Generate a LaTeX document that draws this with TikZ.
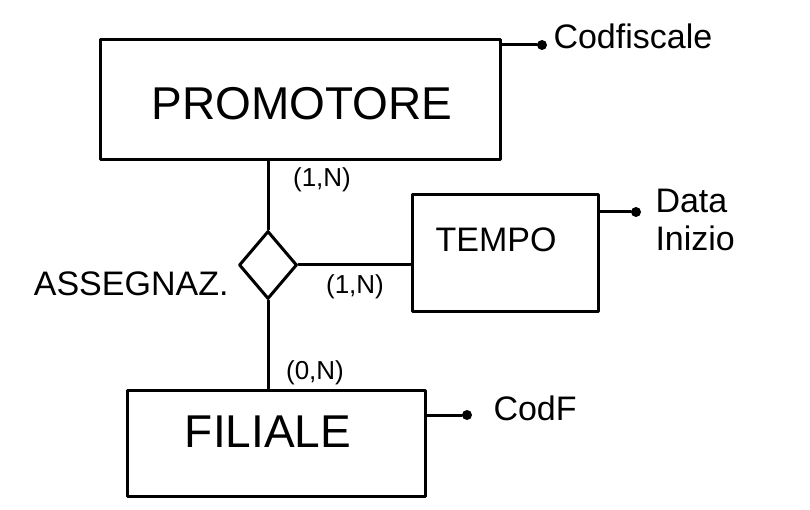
\documentclass[tikz,border=0pt]{standalone}
\usepackage{fontspec}
\setmainfont{Liberation Sans}
\usetikzlibrary{shapes.geometric}
\begin{document}
\begin{tikzpicture}[x=1pt,y=-1pt,
  ink/.style={line width=3pt,black,line cap=round,line join=round},
  entity/.style={ink,draw,rectangle,inner sep=0pt},
  relbox/.style={ink,draw,diamond,inner sep=0pt,minimum width=58pt,minimum height=68pt},
  attrdot/.style={circle,fill=black,inner sep=0pt,minimum size=10pt},
  big/.style={font=\fontsize{46}{48}\selectfont},
  mid/.style={font=\fontsize{34}{38}\selectfont},
  small/.style={font=\fontsize{26}{28}\selectfont}]
\useasboundingbox (0,0) rectangle (810,510);
% entities
\node[entity,minimum width=400pt,minimum height=120pt] (prom) at (300,100) {};
\node[entity,minimum width=186pt,minimum height=116pt] (tempo) at (505,253) {};
\node[entity,minimum width=298pt,minimum height=106pt] (fil) at (276,443) {};
\node[big] (promtxt) at (302,104) {PROMOTORE};
\node[mid] (tempotxt) at (496,240) {TEMPO};
\node[big] (filtxt) at (268,432) {FILIALE};
% relationship
\node[relbox] (rel) at (268,265) {};
\node[mid,anchor=east] (reltxt) at (232,284) {ASSEGNAZ.};
% connectors
\draw[ink] (rel.north |- prom.south) -- (rel.north);
\draw[ink] (rel.east) -- (tempo.west |- rel.east);
\draw[ink] (rel.south) -- (fil.north -| rel.south);
\node[small] (c1) at (322,180) {(1,N)};
\node[small] (c2) at (355,287) {(1,N)};
\node[small] (c3) at (315,373) {(0,N)};
% attributes
\node[attrdot] (a1) at (542,45) {};
\draw[ink] (prom.east |- a1) -- (a1);
\node[mid,anchor=west] (a1txt) at (550,36) {Codfiscale};
\node[attrdot] (a2) at (636,212) {};
\draw[ink] (tempo.east |- a2) -- (a2);
\node[mid,anchor=west,align=left] (a2txt) at (652,220) {Data\\Inizio};
\node[attrdot] (a3) at (467,415) {};
\draw[ink] (fil.east |- a3) -- (a3);
\node[mid,anchor=west] (a3txt) at (490,408) {CodF};
\end{tikzpicture}
\end{document}
